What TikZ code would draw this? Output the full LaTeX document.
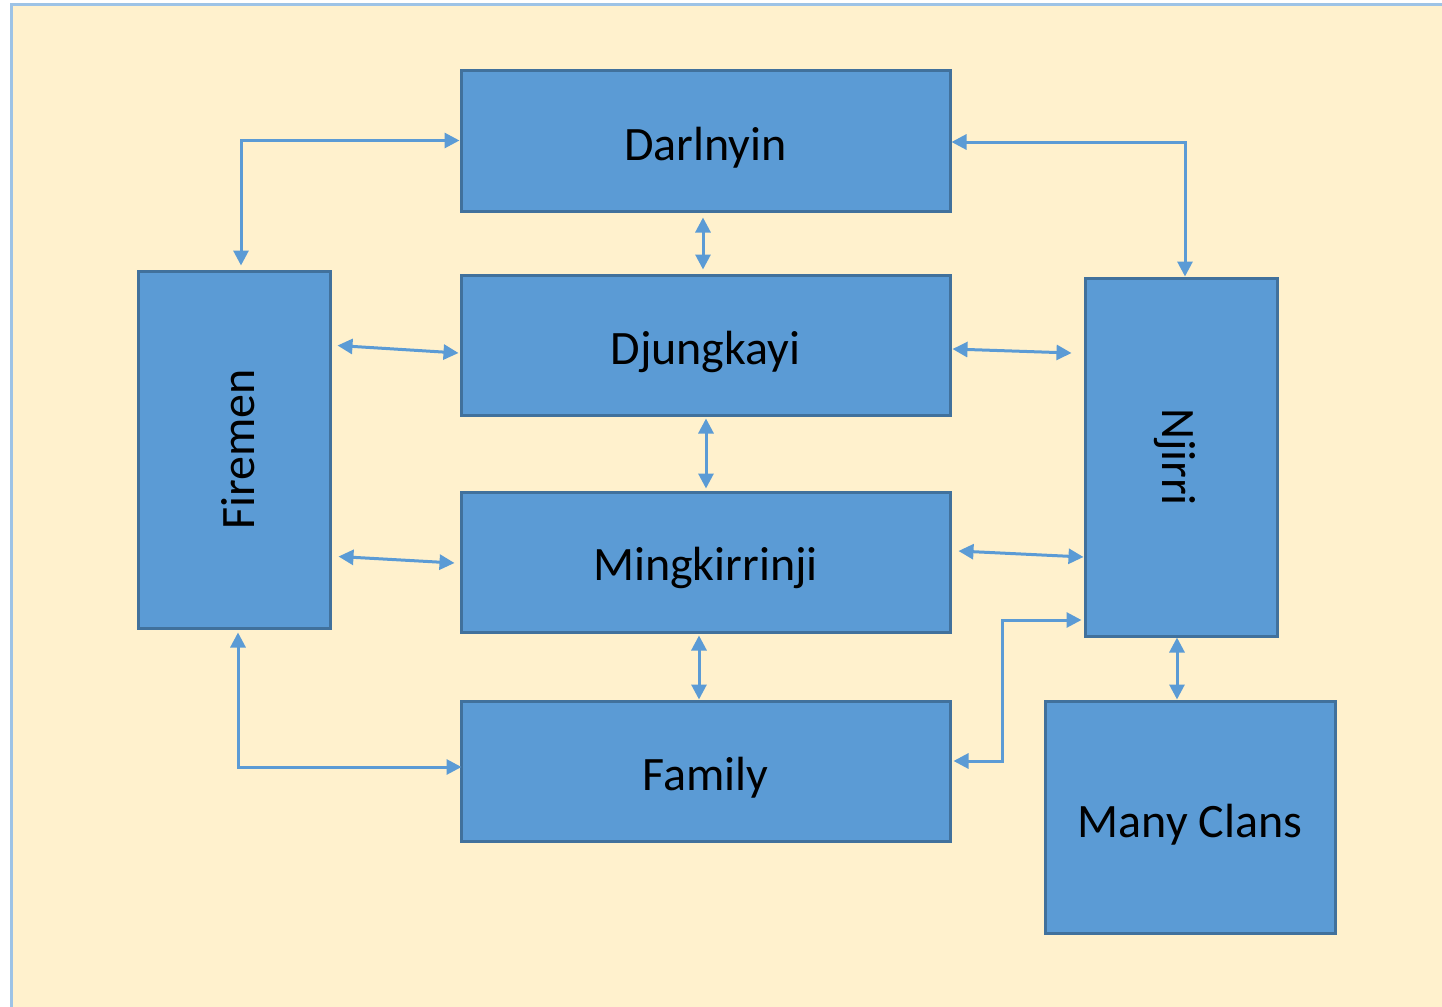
\documentclass[tikz,border=0pt]{standalone}
\usepackage{fontspec}
\setmainfont{Carlito}
\usetikzlibrary{arrows.meta,calc}
\definecolor{bgcream}{HTML}{FFF1CD}
\definecolor{framebl}{HTML}{9DC3E6}
\definecolor{boxfill}{HTML}{5B9BD5}
\definecolor{boxline}{HTML}{41719C}
\newcommand{\lowtext}[2]{\raisebox{-#1}[\height][\depth]{#2}}
\begin{document}
\begin{tikzpicture}[x=0.5pt,y=-0.5pt,
  blk/.style={draw=boxline,fill=boxfill,line width=1.5pt,inner sep=0pt,
    font=\fontsize{24}{29}\selectfont,text=black},
  link/.style={draw=boxfill,line width=1.5pt,
    {Triangle[length=7.5pt,width=7.5pt]}-{Triangle[length=7.5pt,width=7.5pt]}}]
\useasboundingbox (0,0) rectangle (1442,1007);
\fill[white] (0,0) rectangle (1442,1007);
\draw[fill=bgcream,draw=framebl,line width=1.5pt] (11,4) rectangle (1460,1030);

\node[blk,minimum width=489*0.5pt,minimum height=141*0.5pt] (D) at (705.5,140.5) {\lowtext{3.5pt}{Darlnyin}};
\node[blk,minimum width=489*0.5pt,minimum height=140*0.5pt] (J) at (705.5,345) {\lowtext{3.5pt}{Djungkayi}};
\node[blk,minimum width=489*0.5pt,minimum height=140*0.5pt] (M) at (705.5,562) {\lowtext{3pt}{Mingkirrinji}};
\node[blk,minimum width=489*0.5pt,minimum height=140*0.5pt] (F) at (705.5,771) {\lowtext{3.5pt}{Family}};
\node[blk,minimum width=357*0.5pt,minimum height=192*0.5pt,rotate=90] (Fi) at (234,449.5) {\lowtext{2pt}{Firemen}};
\node[blk,minimum width=358*0.5pt,minimum height=192*0.5pt,rotate=-90] (N) at (1181,457) {\lowtext{3pt}{Njirri}};
\node[blk,minimum width=290*0.5pt,minimum height=232*0.5pt] (C) at (1190,817) {\lowtext{4pt}{Many Clans}};

% Darlnyin -- Firemen
\draw[link] (D.west) -| ($(Fi.east)+(7,-4)$);
% Darlnyin -- Njirri
\draw[link] ($(D.east)+(0,1.5)$) -| ($(N.west)+(4,0)$);
% vertical links in the centre column
\draw[link] ($(D.south)+(-2.5,5)$) -- ($(J.north)+(-2.5,-4)$);
\draw[link] ($(J.south)+(0.5,2)$) -- ($(M.north)+(0.5,-2)$);
\draw[link] ($(M.south)+(-6.5,2)$) -- ($(F.north)+(-6.5,0)$);
% Firemen -- Djungkayi / Mingkirrinji
\draw[link] ($(Fi.south east)+(6,76)$) -- ($(J.west)+(-1,8)$);
\draw[link] ($(Fi.south east)+(7,287)$) -- ($(M.west)+(-5,1)$);
% Djungkayi / Mingkirrinji -- Njirri
\draw[link] ($(J.east)+(1,4)$) -- ($(N.south)+(-12,-104)$);
\draw[link] ($(M.east)+(7,-11)$) -- ($(N.south)+(0,100)$);
% Family -- Njirri
\draw[link] ($(F.east)+(2,-10)$) -- ++(49,0) |- ($(N.south)+(-2,163)$);
% Firemen -- Family
\draw[link] ($(Fi.west)+(4,3)$) |- ($(F.west)+(2,-4)$);
% Njirri -- Many Clans
\draw[link] ($(N.east)+(-4,0)$) -- ($(C.north)+(-13,0)$);
\end{tikzpicture}
\end{document}
